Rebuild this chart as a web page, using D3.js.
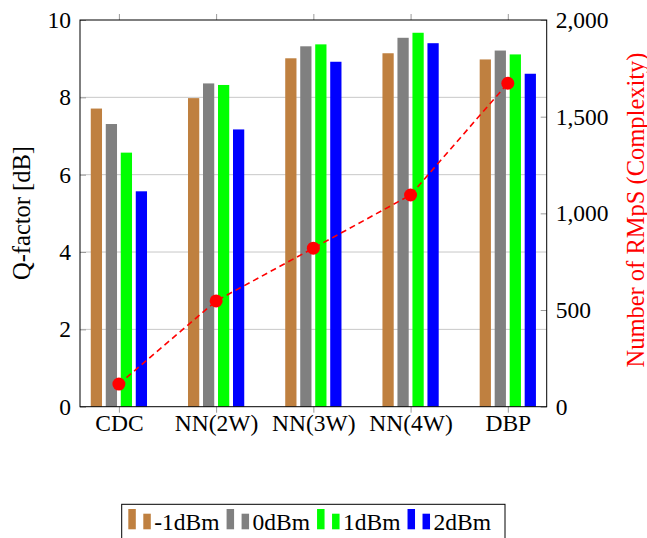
<!DOCTYPE html>
<html>
<head>
<meta charset="utf-8">
<script src="https://cdn.jsdelivr.net/npm/d3@7"></script>
<style>
  html, body { margin: 0; padding: 0; background: #fff; }
  svg { display: block; font-family: "Liberation Serif", "Times New Roman", serif; }
</style>
</head>
<body>
<svg id="chart" width="647" height="538"></svg>
<script>
// ---- data ----
const categories = ["CDC", "NN(2W)", "NN(3W)", "NN(4W)", "DBP"];
const seriesNames = ["-1dBm", "0dBm", "1dBm", "2dBm"];
const qMinus1 = [7.71, 7.98, 9.01, 9.14, 8.98];
const q0 = [7.31, 8.36, 9.32, 9.54, 9.21];
const q1 = [6.57, 8.32, 9.37, 9.67, 9.11];
const q2 = [5.57, 7.17, 8.92, 9.40, 8.61];
const complexity = [117, 547, 820, 1095, 1673];
const leftTicks = [0, 2, 4, 6, 8, 10];
const rightTicks = [0, 500, 1000, 1500, 2000];

const seriesValues = [qMinus1, q0, q1, q2];
const colors = ["#bf8040", "#808080", "#00ff00", "#0000ff"];

// ---- layout ----
const L = 80, R = 546.7, T = 20, B = 406.7;
const FS = 23.5, FT = 24.5;
const svg = d3.select("#chart");

const x = d3.scalePoint().domain(categories).range([L, R]).padding(0.4);
const xs = d3.scaleBand().domain(seriesNames).range([-30, 30]).paddingInner(0.25).paddingOuter(0.125);
const yL = d3.scaleLinear().domain([0, 10]).range([B, T]);
const yR = d3.scaleLinear().domain([0, 2000]).range([B, T]);

// grid
svg.append("g").selectAll("line").data(leftTicks.filter(t => t > 0 && t < 10)).join("line")
  .attr("x1", L).attr("x2", R).attr("y1", d => yL(d)).attr("y2", d => yL(d))
  .attr("stroke", "#c8c8c8").attr("stroke-width", 1);

// bars
const rows = [];
seriesNames.forEach((s, si) => categories.forEach((c, ci) => rows.push({ s, si, c, v: seriesValues[si][ci] })));
svg.append("g").selectAll("rect").data(rows).join("rect")
  .attr("x", d => x(d.c) + xs(d.s))
  .attr("width", xs.bandwidth())
  .attr("y", d => yL(d.v))
  .attr("height", d => yL(0) - yL(d.v))
  .attr("fill", d => colors[d.si]);

// axes
function styleAxis(g, labels) {
  g.select(".domain").remove();
  g.selectAll(".tick line").attr("stroke", "#9a9a9a");
  g.selectAll(".tick text").attr("font-size", FS).attr("font-family", "Liberation Serif").attr("fill", "#000");
  if (!labels) g.selectAll(".tick text").remove();
}
svg.append("g").attr("transform", `translate(${L},0)`)
  .call(d3.axisLeft(yL).tickValues(leftTicks).tickSizeInner(-6).tickSizeOuter(0).tickPadding(9))
  .call(g => styleAxis(g, true));
svg.append("g").attr("transform", `translate(${R},0)`)
  .call(d3.axisRight(yR).tickValues(rightTicks).tickFormat(d3.format(",")).tickSizeInner(-6).tickSizeOuter(0).tickPadding(9))
  .call(g => styleAxis(g, true));
svg.append("g").attr("transform", `translate(0,${B})`)
  .call(d3.axisBottom(x).tickSizeInner(6).tickSizeOuter(0).tickPadding(2))
  .call(g => styleAxis(g, true));
svg.append("g").attr("transform", `translate(0,${T})`)
  .call(d3.axisTop(x).tickSizeInner(6).tickSizeOuter(0))
  .call(g => styleAxis(g, false));

// frame
svg.append("rect").attr("x", L).attr("y", T).attr("width", R - L).attr("height", B - T)
  .attr("fill", "none").attr("stroke", "#000").attr("stroke-width", 1);

// complexity line
const line = d3.line().x((d, i) => x(categories[i])).y(d => yR(d));
svg.append("path").datum(complexity).attr("d", line)
  .attr("fill", "none").attr("stroke", "#ff0000").attr("stroke-width", 1.6).attr("stroke-dasharray", "6,4");
svg.append("g").selectAll("circle").data(complexity).join("circle")
  .attr("cx", (d, i) => x(categories[i])).attr("cy", d => yR(d)).attr("r", 6.5).attr("fill", "#ff0000");

// axis titles
svg.append("text").attr("transform", `translate(21.7,213) rotate(-90)`)
  .attr("text-anchor", "middle").attr("dominant-baseline", "central")
  .attr("font-size", FT).text("Q-factor [dB]");
svg.append("text").attr("transform", `translate(635,210) rotate(-90)`)
  .attr("text-anchor", "middle").attr("dominant-baseline", "central")
  .attr("font-size", FT).attr("fill", "#ff0000").text("Number of RMpS (Complexity)");

// legend
const lg = svg.append("g");
lg.append("rect").attr("x", 121.7).attr("y", 504.3).attr("width", 505 - 121.7).attr("height", 50)
  .attr("fill", "#fff").attr("stroke", "#000").attr("stroke-width", 1);
let lx = 128.3;
seriesNames.forEach((s, i) => {
  lg.append("rect").attr("x", lx).attr("y", 509).attr("width", 7.5).attr("height", 20.3).attr("fill", colors[i]);
  lg.append("rect").attr("x", lx + 15).attr("y", 513.7).attr("width", 7.5).attr("height", 15.6).attr("fill", colors[i]);
  const t = lg.append("text").attr("x", lx + 26).attr("y", 530).attr("font-size", FS).text(s);
  lx = lx + 26 + t.node().getComputedTextLength() + 7;
});
</script>
</body>
</html>
